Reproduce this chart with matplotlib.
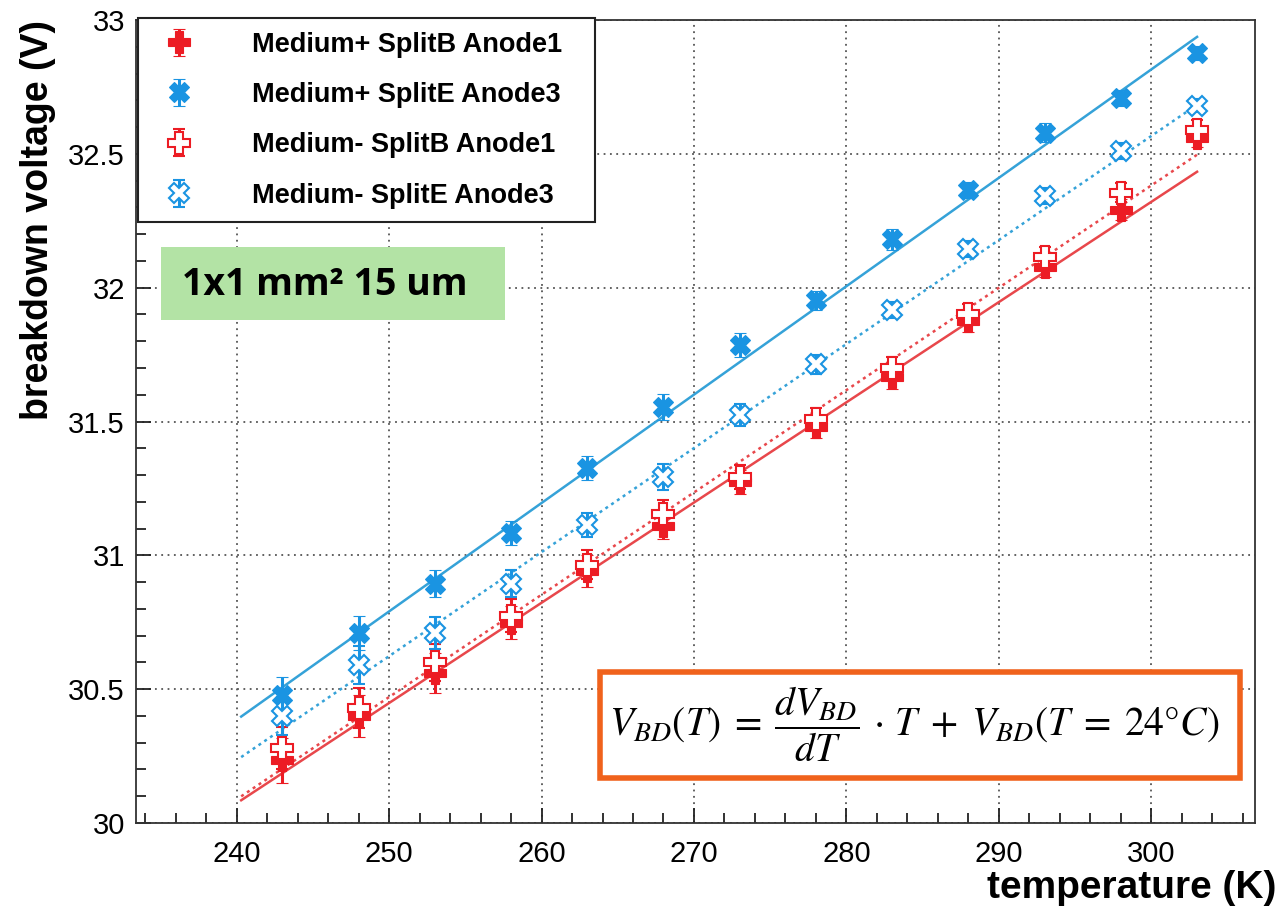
import numpy as np
import matplotlib
matplotlib.use('Agg')
import matplotlib.pyplot as plt
from matplotlib.patches import Rectangle
from matplotlib.ticker import MultipleLocator

# temperatures (K) and breakdown voltages (V)
temperature = [243, 248, 253, 258, 263, 268, 273, 278, 283, 288, 293, 298, 303]

vbd_plus_b1 = [30.234, 30.40, 30.56, 30.749, 30.943, 31.11, 31.274, 31.479, 31.666, 31.874, 32.079, 32.292, 32.56]
err_plus_b1 = [0.085, 0.08, 0.075, 0.06, 0.06, 0.05, 0.045, 0.04, 0.045, 0.04, 0.04, 0.04, 0.035]

vbd_plus_e3 = [30.477, 30.71, 30.894, 31.084, 31.327, 31.554, 31.785, 31.953, 32.18, 32.366, 32.579, 32.709, 32.877]
err_plus_e3 = [0.07, 0.065, 0.05, 0.045, 0.045, 0.05, 0.045, 0.035, 0.04, 0.03, 0.035, 0.03, 0.025]

vbd_minus_b1 = [30.28, 30.43, 30.60, 30.775, 30.965, 31.155, 31.293, 31.509, 31.70, 31.90, 32.113, 32.355, 32.59]
err_minus_b1 = [0.08, 0.075, 0.07, 0.06, 0.055, 0.05, 0.045, 0.04, 0.04, 0.04, 0.04, 0.035, 0.035]

vbd_minus_e3 = [30.40, 30.59, 30.71, 30.894, 31.114, 31.293, 31.524, 31.714, 31.915, 32.143, 32.344, 32.512, 32.68]
err_minus_e3 = [0.07, 0.07, 0.06, 0.05, 0.045, 0.05, 0.04, 0.035, 0.03, 0.03, 0.03, 0.03, 0.025]

# linear fits: slope dV/dT (V/K) and V_BD at 24 C (297.15 K)
fit_slope = [0.03745, 0.0405, 0.03823, 0.03887]
fit_v24 = [32.214, 32.70, 32.273, 32.456]
fit_range = [240.3, 303.0]

labels = ['Medium+ SplitB Anode1', 'Medium+ SplitE Anode3',
          'Medium- SplitB Anode1', 'Medium- SplitE Anode3']

RED = '#ec1c24'
BLUE = '#1a94e2'
RED_FIT = '#e8474b'
BLUE_FIT = '#35a2d8'

W, H = 1281, 911
plt.rcParams['mathtext.fontset'] = 'stix'
fig = plt.figure(figsize=(W / 100, H / 100), dpi=100)
ax = fig.add_axes([136 / W, 1 - 823 / H, (1255 - 136) / W, (823 - 20) / H])

series = [
    (vbd_plus_b1, err_plus_b1, 'P', 16, RED, RED),
    (vbd_plus_e3, err_plus_e3, 'X', 14, BLUE, BLUE),
    (vbd_minus_b1, err_minus_b1, 'P', 16, 'white', RED),
    (vbd_minus_e3, err_minus_e3, 'X', 14, 'white', BLUE),
]
fit_style = [(RED_FIT, '-'), (BLUE_FIT, '-'), (RED_FIT, (0, (1.2, 1.6))), (BLUE_FIT, (0, (1.2, 1.6)))]

# fit lines
T = np.linspace(fit_range[0], fit_range[1], 50)
for i in range(4):
    c, ls = fit_style[i]
    ax.plot(T, fit_slope[i] * (T - 297.15) + fit_v24[i], color=c, ls=ls, lw=1.8, zorder=2)

handles = []
for (v, e, m, ms, fc, ec), lab in zip(series, labels):
    h = ax.errorbar(temperature, v, yerr=e, fmt=m, ms=ms, mfc=fc, mec=ec, mew=1.5 if fc == 'white' else 0.8,
                    ecolor=ec, elinewidth=2.2, capsize=4.5, capthick=2.2, label=lab, zorder=3)
    handles.append(h)

ax.set_xlim(233.4, 306.8)
ax.set_ylim(30, 33)
ax.xaxis.set_major_locator(MultipleLocator(10))
ax.xaxis.set_minor_locator(MultipleLocator(2))
ax.yaxis.set_major_locator(MultipleLocator(0.5))
ax.yaxis.set_minor_locator(MultipleLocator(0.1))
ax.tick_params(which='both', direction='in', top=False, right=False, width=1.3, color='#222222')
ax.tick_params(which='major', length=11)
ax.tick_params(which='minor', length=7)
ax.tick_params(axis='y', labelsize=21, pad=8)
ax.tick_params(axis='x', labelsize=21, pad=12)
for lab in ax.get_xticklabels() + ax.get_yticklabels():
    lab.set_family('Liberation Sans')
ax.yaxis.set_major_formatter(matplotlib.ticker.FuncFormatter(lambda v, p: '%g' % v))
ax.grid(True, which='major', color='#555555', ls=(0, (1, 2.5)), lw=1.3)
for s in ax.spines.values():
    s.set_linewidth(1.3)
    s.set_color('#333333')

leg = fig.legend(handles=handles, labels=labels, loc='upper left',
                 bbox_to_anchor=(138 / W, 1 - 220 / H, (595 - 138) / W, (220 - 18) / H),
                 mode='expand', fancybox=False, framealpha=1, edgecolor='#222222',
                 prop={'family': 'Liberation Sans', 'weight': 'bold', 'size': 19.5},
                 labelspacing=0.9, handlelength=2.0, handletextpad=1.7, borderpad=0.5,
                 borderaxespad=0)
leg.get_frame().set_linewidth(1.5)

# axis titles
fig.text(38 / W, 1 - 20 / H, 'breakdown voltage (V)', rotation=90, ha='center', va='top',
         family='Liberation Sans', weight='bold', fontsize=27)
fig.text(1276 / W, 1 - 888 / H, 'temperature (K)', ha='right', va='center',
         family='Liberation Sans', weight='bold', fontsize=28)

# device label
fig.patches.append(Rectangle((161 / W, 1 - 320 / H), (505 - 161) / W, (320 - 247) / H,
                             transform=fig.transFigure, facecolor='#b3e3a5', edgecolor='none', zorder=5))
fig.text(182 / W, 1 - 285 / H, '1x1 mm² 15 um', ha='left', va='center',
         family='Open Sans', weight='bold', fontsize=27, zorder=6)

# fit formula
fig.patches.append(Rectangle((600 / W, 1 - 778 / H), (1240 - 600) / W, (778 - 672) / H,
                             transform=fig.transFigure, facecolor='white', edgecolor='#f0621c',
                             lw=4, zorder=5))
fig.text(914 / W, 1 - 724 / H,
         r'$V_{BD}(T)\;=\;\dfrac{dV_{BD}}{dT}\,\cdot\,T\;+\;V_{BD}(T\;=\;24\degree C)$',
         ha='center', va='center', fontsize=28.5, zorder=6)

fig.savefig('out.png', dpi=100)
